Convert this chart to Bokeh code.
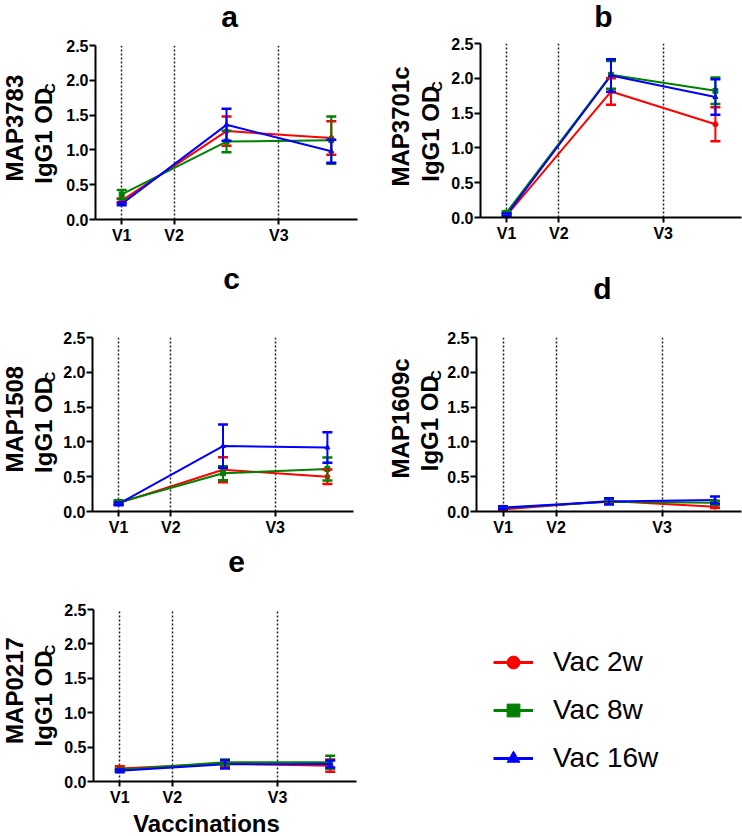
import math
from bokeh.plotting import figure
from bokeh.layouts import row, column
from bokeh.models import (Range1d, FixedTicker, PrintfTickFormatter, Label, Whisker,
                          TeeHead, ColumnDataSource, Legend, LegendItem, Spacer)
from bokeh.embed import file_html
from bokeh.resources import INLINE

FONT = "Liberation Sans"

# ---------------- data ----------------
sample_x = [0, 2, 4]                 # sampling points (V1, between V2/V3, after V3)
vacc_ticks = [0, 1, 3]
vacc_labels = ["V1", "V2", "V3"]
y_ticks = [0.0, 0.5, 1.0, 1.5, 2.0, 2.5]
series_names = ["Vac 2w", "Vac 8w", "Vac 16w"]
series_colors = ["#ff0000", "#008000", "#0000ff"]
series_markers = ["circle", "square", "triangle"]

map3783_2w = [0.27, 1.27, 1.17]
map3783_2w_err = [0.03, 0.21, 0.24]
map3783_8w = [0.36, 1.12, 1.14]
map3783_8w_err = [0.065, 0.155, 0.34]
map3783_16w = [0.225, 1.36, 0.98]
map3783_16w_err = [0.02, 0.23, 0.165]

map3701c_2w = [0.03, 1.81, 1.34]
map3701c_2w_err = [0.02, 0.19, 0.245]
map3701c_8w = [0.07, 2.05, 1.82]
map3701c_8w_err = [0.02, 0.20, 0.19]
map3701c_16w = [0.04, 2.04, 1.73]
map3701c_16w_err = [0.02, 0.235, 0.255]

map1508_2w = [0.12, 0.60, 0.50]
map1508_2w_err = [0.02, 0.18, 0.105]
map1508_8w = [0.13, 0.55, 0.61]
map1508_8w_err = [0.03, 0.10, 0.165]
map1508_16w = [0.11, 0.94, 0.92]
map1508_16w_err = [0.02, 0.31, 0.22]

map1609c_2w = [0.03, 0.15, 0.07]
map1609c_2w_err = [0.01, 0.03, 0.02]
map1609c_8w = [0.05, 0.14, 0.125]
map1609c_8w_err = [0.01, 0.03, 0.03]
map1609c_16w = [0.055, 0.145, 0.165]
map1609c_16w_err = [0.02, 0.045, 0.05]

map0217_2w = [0.19, 0.26, 0.23]
map0217_2w_err = [0.03, 0.05, 0.09]
map0217_8w = [0.17, 0.28, 0.28]
map0217_8w_err = [0.02, 0.04, 0.095]
map0217_16w = [0.155, 0.25, 0.255]
map0217_16w_err = [0.02, 0.06, 0.05]


def text_fig(w, h):
    """Blank figure whose frame fills it; data units equal pixels."""
    f = figure(width=w, height=h, x_range=Range1d(0, w), y_range=Range1d(0, h),
               output_backend="svg", toolbar_location=None, title=None,
               x_axis_location=None, y_axis_location=None,
               min_border=0, min_border_left=0, min_border_right=0,
               min_border_top=0, min_border_bottom=0)
    f.outline_line_color = None
    f.grid.visible = False
    f.background_fill_color = "white"
    f.border_fill_color = "white"
    return f


def lbl(text, x, y, size, align="center", angle=0.0, bold=True):
    return Label(x=x, y=y, text=text, text_align=align, text_baseline="middle",
                 angle=angle, text_font=FONT, text_font_style="bold" if bold else "normal",
                 text_font_size=size, text_color="black")


def plot_fig(means, errs, w, h, left, right, top, bottom):
    p = figure(width=w, height=h, x_range=Range1d(-0.5, 4.5), y_range=Range1d(0, 2.5),
               output_backend="svg", toolbar_location=None, title=None,
               min_border_left=left, min_border_right=right,
               min_border_top=top, min_border_bottom=bottom)
    p.outline_line_color = None
    p.background_fill_color = "white"
    p.border_fill_color = "white"
    p.ygrid.visible = False
    p.xgrid.ticker = FixedTicker(ticks=vacc_ticks)
    p.xgrid.grid_line_color = "#222222"
    p.xgrid.grid_line_dash = "2 2"
    p.xgrid.grid_line_width = 1.5

    p.xaxis.ticker = FixedTicker(ticks=vacc_ticks)
    p.xaxis.major_label_overrides = {t: l for t, l in zip(vacc_ticks, vacc_labels)}
    p.yaxis.ticker = FixedTicker(ticks=y_ticks)
    p.yaxis.formatter = PrintfTickFormatter(format="%.1f")
    for ax in p.axis:
        ax.axis_line_width = 2
        ax.axis_line_color = "black"
        ax.major_tick_line_width = 2
        ax.major_tick_line_color = "black"
        ax.major_tick_in = 0
        ax.minor_tick_in = 0
        ax.minor_tick_out = 0
        ax.major_label_text_font = FONT
        ax.major_label_text_font_style = "bold"
        ax.major_label_text_font_size = "16px"
        ax.major_label_text_color = "black"
    p.xaxis.major_tick_out = 5
    p.yaxis.major_tick_out = 6
    p.xaxis.major_label_standoff = 2
    p.yaxis.major_label_standoff = 1

    for m, e, c, mk in zip(means, errs, series_colors, series_markers):
        src = ColumnDataSource(dict(x=sample_x, y=m,
                                    lo=[a - b for a, b in zip(m, e)],
                                    hi=[a + b for a, b in zip(m, e)]))
        p.line("x", "y", source=src, line_color=c, line_width=2)
        w_ = Whisker(base="x", upper="hi", lower="lo", source=src, level="glyph",
                     line_color=c, line_width=2,
                     upper_head=TeeHead(size=10, line_color=c, line_width=2.5),
                     lower_head=TeeHead(size=10, line_color=c, line_width=2.5))
        p.add_layout(w_)
        p.scatter("x", "y", source=src, marker=mk, size=5, color=c)
    return p


def build_panel(letter, antigen, means, errs, col_w, head_h, title_x, title_mid,
                lab_w, lab1_base, lab2_base, lab1_dy, lab2_dy, plot_h, left, right, top, bottom):
    header = text_fig(col_w, head_h)
    header.add_layout(lbl(letter, title_x, head_h - title_mid, "30px"))

    ylab = text_fig(lab_w, plot_h)
    cy = plot_h - (top + 87)
    up = math.pi / 2
    ylab.add_layout(lbl(antigen, lab1_base - 8.3, cy + lab1_dy, "24px", angle=up))
    ylab.add_layout(lbl("IgG1 OD", lab2_base - 8.3, cy + lab2_dy - 5.5, "24px", angle=up))
    ylab.add_layout(lbl("C", lab2_base - 2.2, cy + lab2_dy + 53, "15px", angle=up))

    p = plot_fig(means, errs, col_w - lab_w, plot_h, left, right, top, bottom)
    return header, ylab, p


ha, la, pa = build_panel("a", "MAP3783", [map3783_2w, map3783_8w, map3783_16w],
                         [map3783_2w_err, map3783_8w_err, map3783_16w_err],
                         378, 34, 229, 16, 58, 22, 51, -4.5, -8.5, 216, 37, 21, 11, 31)
hb, lb, pb = build_panel("b", "MAP3701c", [map3701c_2w, map3701c_8w, map3701c_16w],
                         [map3701c_2w_err, map3701c_8w_err, map3701c_16w_err],
                         364, 34, 225, 16, 68, 30, 60, -7, -10.5, 216, 34, 1, 9, 33)
hc, lc, pc = build_panel("c", "MAP1508", [map1508_2w, map1508_8w, map1508_16w],
                         [map1508_2w_err, map1508_8w_err, map1508_16w_err],
                         378, 77, 231, 27.6, 58, 22, 51, -3, -4.5, 213, 34, 25, 10, 29)
hd, ld, pdd = build_panel("d", "MAP1609c", [map1609c_2w, map1609c_8w, map1609c_16w],
                          [map1609c_2w_err, map1609c_8w_err, map1609c_16w_err],
                          364, 77, 224, 37.6, 66, 30, 59, -2, -2.5, 213, 32, 1, 10, 29)
he, le, pe = build_panel("e", "MAP0217", [map0217_2w, map0217_8w, map0217_16w],
                         [map0217_2w_err, map0217_8w_err, map0217_16w_err],
                         378, 60, 236, 21.6, 58, 22, 51, -2, -6, 208, 35, 22, 9, 25)

footer = text_fig(378, 28)
footer.add_layout(lbl("Vaccinations", 206, 13.4, "24px"))

# legend panel
lg = text_fig(355, 296)
items = []
for name, c, mk, m in zip(series_names, series_colors, series_markers,
                          [map0217_2w, map0217_8w, map0217_16w]):
    src = ColumnDataSource(dict(x=sample_x, y=m))
    r1 = lg.line("x", "y", source=src, line_color=c, line_width=3, visible=False)
    r2 = lg.scatter("x", "y", source=src, marker=mk, size=13, color=c, visible=False)
    items.append(LegendItem(label=name, renderers=[r1, r2]))
legend = Legend(items=items, location="top_left", padding=0, margin=106,
                border_line_color=None, background_fill_alpha=0,
                label_text_font=FONT, label_text_font_size="28px", label_text_color="black",
                glyph_width=40, glyph_height=32, label_height=32, spacing=16, label_standoff=20)
lg.add_layout(legend)

row1 = row(column(ha, row(la, pa)), column(hb, row(lb, pb)))
row2 = row(column(hc, row(lc, pc)), column(hd, row(ld, pdd)))
row3 = row(column(he, row(le, pe), footer), Spacer(width=9, height=296), lg)
layout = column(row1, row2, row3)
open("out.html", "w").write(file_html(layout, INLINE))
